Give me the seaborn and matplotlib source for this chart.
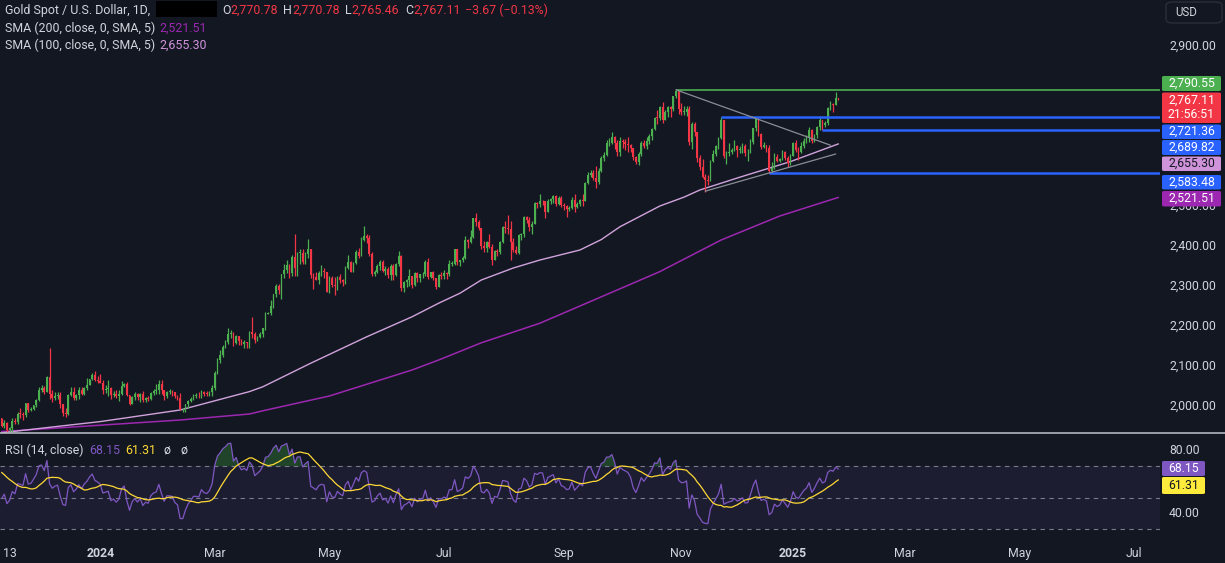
import numpy as np
import pandas as pd
import matplotlib
matplotlib.use('Agg')
import matplotlib.pyplot as plt
import matplotlib.transforms as mtransforms
from matplotlib.patches import FancyBboxPatch, Rectangle
from matplotlib.lines import Line2D
import seaborn as sns

# ---------------- data ----------------
# closes before the visible window, only used to warm up the RSI
warmup_close = [1933, 1931, 1930, 1920, 1925, 1915, 1901, 1874, 1864,
                1848, 1828, 1822, 1821, 1820, 1833, 1861, 1860, 1874, 1868, 1932,
                1920, 1923, 1947, 1974, 1981, 1973, 1971, 1979, 1985, 2006,
                1996, 1983, 1982, 1986, 1992, 1978, 1969]

# daily bars from 2023-11-08 to 2025-01-27 (one row per month)
close = [
    1950, 1958, 1940, 1946, 1963, 1959, 1981, 1980, 1978, 2007, 1990, 1992, 2002, 2014, 2041, 2044, 2036,
    2072, 2029, 2019, 2025, 2028, 2004, 1982, 1980, 2027, 2036, 2019, 2027, 2040, 2031, 2045, 2053, 2067, 2077, 2065, 2062,
    2058, 2041, 2043, 2045, 2027, 2030, 2024, 2029, 2049, 2055, 2028, 2006, 2023, 2029, 2022, 2029, 2014, 2020, 2018, 2032, 2037, 2039,
    2054, 2039, 2025, 2035, 2035, 2034, 2024, 2020, 1992, 1992, 2004, 2013, 2018, 2025, 2025, 2024, 2035, 2031, 2030, 2034, 2044,
    2083, 2114, 2128, 2148, 2160, 2179, 2182, 2158, 2174, 2162, 2155, 2160, 2157, 2186, 2181, 2165, 2172, 2179, 2194, 2230, 2233,
    2250, 2280, 2300, 2290, 2330, 2339, 2352, 2333, 2372, 2344, 2383, 2383, 2361, 2379, 2392, 2327, 2322, 2316, 2332, 2337, 2335, 2286,
    2320, 2303, 2301, 2322, 2314, 2309, 2346, 2360, 2336, 2358, 2386, 2376, 2415, 2425, 2421, 2379, 2329, 2334, 2351, 2361, 2338, 2343, 2327,
    2350, 2327, 2355, 2376, 2294, 2311, 2316, 2324, 2303, 2333, 2319, 2329, 2329, 2360, 2322, 2334, 2319, 2298, 2327, 2326,
    2332, 2329, 2356, 2356, 2392, 2359, 2364, 2371, 2415, 2411, 2422, 2469, 2459, 2445, 2400, 2396, 2409, 2398, 2364, 2387, 2384, 2410, 2447,
    2446, 2443, 2410, 2390, 2382, 2427, 2431, 2472, 2465, 2447, 2456, 2507, 2504, 2513, 2512, 2484, 2512, 2518, 2524, 2504, 2520, 2503,
    2500, 2493, 2495, 2516, 2497, 2506, 2516, 2512, 2558, 2578, 2582, 2569, 2559, 2587, 2621, 2628, 2657, 2657, 2672, 2658, 2634,
    2663, 2659, 2656, 2653, 2644, 2622, 2611, 2630, 2657, 2649, 2662, 2674, 2692, 2721, 2720, 2748, 2714, 2736, 2747, 2743, 2774, 2788, 2743,
    2736, 2736, 2742, 2659, 2706, 2684, 2619, 2598, 2572, 2565, 2563, 2612, 2631, 2650, 2670, 2715, 2625, 2632, 2636, 2639, 2650,
    2639, 2643, 2651, 2632, 2633, 2660, 2694, 2718, 2680, 2648, 2652, 2646, 2587, 2594, 2622, 2612, 2617, 2634, 2621, 2607, 2625,
    2658, 2640, 2636, 2649, 2662, 2670, 2689, 2663, 2677, 2697, 2715, 2703, 2708, 2745, 2755, 2753, 2770.78, 2767.11,
]
high = [
    1970, 1965, 1960, 1947, 1971, 1970, 1984, 1994, 1985, 2008, 2007, 1997, 2003, 2018, 2048, 2052, 2049,
    2075, 2146, 2040, 2036, 2035, 2036, 2006, 1995, 2030, 2048, 2047, 2031, 2047, 2047, 2048, 2070, 2068, 2083, 2088, 2075,
    2079, 2064, 2053, 2064, 2047, 2038, 2040, 2041, 2062, 2058, 2059, 2028, 2026, 2034, 2033, 2032, 2037, 2023, 2025, 2036, 2043, 2056,
    2065, 2066, 2040, 2038, 2043, 2040, 2036, 2027, 2032, 1996, 2006, 2016, 2022, 2031, 2033, 2035, 2041, 2038, 2037, 2038, 2052,
    2088, 2120, 2141, 2152, 2165, 2195, 2189, 2185, 2178, 2175, 2167, 2164, 2161, 2188, 2223, 2185, 2176, 2185, 2195, 2236, 2234,
    2266, 2281, 2305, 2305, 2331, 2354, 2365, 2354, 2378, 2431, 2386, 2392, 2392, 2384, 2417, 2391, 2333, 2335, 2338, 2352, 2346, 2336,
    2326, 2326, 2323, 2326, 2331, 2318, 2351, 2378, 2362, 2360, 2390, 2395, 2422, 2450, 2431, 2427, 2385, 2340, 2355, 2366, 2364, 2350, 2348,
    2354, 2354, 2357, 2388, 2378, 2313, 2317, 2342, 2325, 2334, 2335, 2331, 2336, 2365, 2369, 2336, 2338, 2320, 2330, 2335,
    2339, 2336, 2365, 2363, 2392, 2393, 2366, 2376, 2424, 2418, 2440, 2469, 2483, 2466, 2445, 2413, 2412, 2431, 2404, 2390, 2392, 2413, 2451,
    2462, 2477, 2462, 2419, 2401, 2431, 2432, 2474, 2476, 2473, 2463, 2509, 2509, 2531, 2514, 2513, 2517, 2521, 2528, 2528, 2524, 2525,
    2507, 2503, 2500, 2523, 2529, 2509, 2518, 2529, 2560, 2586, 2590, 2589, 2600, 2596, 2625, 2634, 2664, 2670, 2685, 2674, 2664,
    2673, 2667, 2667, 2672, 2655, 2645, 2625, 2634, 2662, 2666, 2673, 2679, 2695, 2722, 2740, 2749, 2759, 2740, 2750, 2749, 2774, 2790.55, 2787,
    2757, 2750, 2750, 2749, 2711, 2709, 2685, 2627, 2618, 2581, 2577, 2614, 2639, 2653, 2673, 2721.36, 2716, 2637, 2657, 2645, 2665,
    2653, 2649, 2657, 2656, 2643, 2667, 2696, 2721, 2720, 2683, 2660, 2653, 2653, 2610, 2632, 2631, 2620, 2639, 2638, 2625, 2629,
    2660, 2665, 2648, 2660, 2671, 2678, 2697, 2693, 2679, 2699, 2724, 2716, 2713, 2748, 2763, 2758, 2786, 2770.78,
]
low = [
    1947, 1945, 1932, 1931, 1936, 1955, 1956, 1971, 1965, 1973, 1985, 1987, 1990, 1998, 2012, 2035, 2031,
    2034, 2018, 2010, 2016, 2018, 1996, 1976, 1973, 1978, 2024, 2016, 2016, 2017, 2028, 2028, 2041, 2052, 2064, 2062, 2058,
    2057, 2030, 2033, 2024, 2017, 2022, 2021, 2013, 2028, 2047, 2025, 2002, 2004, 2015, 2016, 2010, 2011, 2009, 2012, 2015, 2028, 2030,
    2030, 2031, 2015, 2021, 2030, 2026, 2020, 2015, 1990, 1984, 1985, 1995, 2011, 2016, 2020, 2020, 2020, 2026, 2025, 2025, 2025,
    2039, 2079, 2108, 2123, 2146, 2154, 2170, 2150, 2155, 2152, 2152, 2146, 2146, 2146, 2170, 2157, 2162, 2171, 2172, 2191, 2229,
    2228, 2244, 2272, 2280, 2267, 2321, 2332, 2319, 2326, 2325, 2324, 2355, 2355, 2356, 2371, 2321, 2292, 2314, 2306, 2326, 2321, 2285,
    2282, 2297, 2277, 2291, 2308, 2299, 2306, 2343, 2334, 2336, 2354, 2371, 2374, 2412, 2408, 2375, 2326, 2325, 2333, 2340, 2335, 2327, 2320,
    2314, 2316, 2325, 2350, 2287, 2286, 2298, 2300, 2296, 2299, 2311, 2310, 2321, 2326, 2317, 2319, 2316, 2293, 2299, 2318,
    2318, 2318, 2326, 2350, 2353, 2353, 2351, 2359, 2368, 2394, 2407, 2420, 2450, 2441, 2393, 2385, 2384, 2395, 2353, 2366, 2375, 2381, 2408,
    2432, 2431, 2364, 2385, 2380, 2379, 2415, 2422, 2457, 2438, 2431, 2454, 2494, 2497, 2502, 2470, 2484, 2504, 2508, 2501, 2502, 2497,
    2489, 2472, 2487, 2492, 2485, 2495, 2499, 2500, 2512, 2555, 2573, 2566, 2546, 2554, 2585, 2613, 2625, 2649, 2654, 2643, 2624,
    2624, 2644, 2640, 2636, 2636, 2616, 2605, 2603, 2625, 2645, 2642, 2656, 2664, 2690, 2704, 2714, 2708, 2715, 2723, 2723, 2737, 2771, 2730,
    2728, 2728, 2725, 2652, 2643, 2676, 2610, 2589, 2570, 2536, 2553, 2563, 2610, 2625, 2643, 2668, 2620, 2605, 2624, 2629, 2637,
    2623, 2632, 2633, 2626, 2613, 2632, 2655, 2688, 2675, 2643, 2646, 2636, 2583.48, 2585, 2593, 2609, 2611, 2614, 2616, 2597, 2602,
    2624, 2635, 2615, 2633, 2645, 2657, 2661, 2657, 2660, 2671, 2690, 2689.82, 2697, 2702, 2741, 2735, 2753, 2765.46,
]

holidays = ['2023-12-25', '2024-01-01', '2024-12-25', '2025-01-01']

# moving averages read at a few points along the curves
sma100_dates = ['2023-11-08', '2023-12-01', '2024-01-02', '2024-02-13', '2024-03-20', '2024-03-27',
                '2024-04-22', '2024-05-21', '2024-06-13', '2024-06-27', '2024-07-09', '2024-07-19',
                '2024-08-06', '2024-08-20', '2024-09-10', '2024-09-20', '2024-10-01', '2024-10-22',
                '2024-11-04', '2024-11-12', '2024-12-03', '2024-12-31', '2025-01-27']
sma100_vals = [1933, 1946, 1961, 1990, 2036, 2048, 2107, 2173, 2223, 2257, 2282, 2315,
               2345, 2365, 2390, 2416, 2448, 2500, 2522, 2540, 2572, 2611, 2655.30]
sma200_dates = ['2023-11-08', '2024-01-02', '2024-02-13', '2024-03-20', '2024-03-27', '2024-05-01',
                '2024-06-13', '2024-06-27', '2024-07-19', '2024-08-20', '2024-09-19', '2024-10-22',
                '2024-11-22', '2024-12-24', '2025-01-27']
sma200_vals = [1936, 1952, 1965, 1980, 1988, 2025, 2090, 2115, 2158, 2207, 2270, 2336,
               2415, 2475, 2521.51]

# drawings
green_level = (2790.55, '2024-10-30')
blue_levels = [2721.36, 2689.82, 2583.48]
blue_starts = ['2024-11-22', '2025-01-17', '2024-12-18']
trend_down = [('2024-10-30', 2790.55), ('2025-01-22', 2652)]
trend_up = [('2024-11-14', 2537), ('2025-01-24', 2630)]

price_ticks = [2000, 2100, 2200, 2300, 2400, 2500, 2900]   # 2,600-2,800 sit under the value tags
rsi_ticks = [80, 40]
rsi_last, rsi_ma_last = 68.15, 61.31
x_tick_dates = ['2023-11-13', '2024-01-02', '2024-03-01', '2024-05-01', '2024-07-01', '2024-09-02',
                '2024-11-01', '2025-01-02', '2025-03-03', '2025-05-01', '2025-07-01']
x_tick_labels = ['13', '2024', 'Mar', 'May', 'Jul', 'Sep', 'Nov', '2025', 'Mar', 'May', 'Jul']

# ---------------- preparation ----------------
cal = pd.bdate_range('2023-11-08', '2025-08-29', freq='C', holidays=holidays)
pos = {d.strftime('%Y-%m-%d'): i for i, d in enumerate(cal)}

close = np.array(close, dtype=float)
opn = np.r_[warmup_close[-1], close[:-1]]
high = np.maximum(np.array(high, dtype=float), np.maximum(opn, close))
low = np.minimum(np.array(low, dtype=float), np.minimum(opn, close))
n = len(close)
x = np.arange(n)

# RSI (14, close) with Wilder smoothing, and its 14 SMA
allc = pd.Series(np.r_[warmup_close, close])
d = allc.diff().fillna(0)
g = d.clip(lower=0).ewm(alpha=1 / 14, adjust=False).mean()
l = (-d.clip(upper=0)).ewm(alpha=1 / 14, adjust=False).mean()
rsi_all = 100 - 100 / (1 + g / l)
rsi = rsi_all.iloc[-n:].to_numpy()
rsi_ma = rsi_all.rolling(14).mean().iloc[-n:].to_numpy()

# ---------------- style ----------------
bg = '#131722'
txt = '#d1d4dc'
up_c, dn_c = '#4caf50', '#f23645'
sns.set_theme(style='dark', rc={'axes.facecolor': bg, 'figure.facecolor': bg})
plt.rcParams['font.family'] = ['Roboto', 'DejaVu Sans']

W, H = 1225, 563
fig = plt.figure(figsize=(W / 100, H / 100), dpi=100)


def fx(px):
    return px / W


def fy(py):
    return 1 - py / H


ax = fig.add_axes([0, fy(433), fx(1160), 433 / H])
ax2 = fig.add_axes([0, fy(540), fx(1160), 107 / H])

per = 2.665
xl = 3 - 9.6 / per
xr = xl + 1160 / per
for a in (ax, ax2):
    a.set_facecolor(bg)
    a.set_xlim(xl, xr)
    for s in a.spines.values():
        s.set_visible(False)
    a.grid(False)
    a.set_yticks([])
ax.set_xticks([])
ax.set_ylim(2000 - 27 / 0.4, 2000 + 406 / 0.4)
ax2.set_ylim(30 - (540 - 529.2) / 1.5725, 70 + (466.3 - 433) / 1.5725)

# ---------------- main pane ----------------
sns.lineplot(x=[pos[s] for s in sma200_dates], y=sma200_vals, ax=ax, color='#9c27b0', linewidth=1.1, zorder=2)
sns.lineplot(x=[pos[s] for s in sma100_dates], y=sma100_vals, ax=ax, color='#d1a3dc', linewidth=1.0, zorder=2)

up = close >= opn
cols = np.where(up, up_c, dn_c)
ax.vlines(x, low, high, colors=cols, linewidth=0.9, zorder=3)
body_lo = np.minimum(opn, close)
body_h = np.maximum(np.abs(close - opn), 1.5)
ax.bar(x, body_h, bottom=body_lo, width=0.66, color=cols, linewidth=0, zorder=3)

ax.hlines(green_level[0], pos[green_level[1]], xr, color=up_c, linewidth=1.2, zorder=4)
for lv, st in zip(blue_levels, blue_starts):
    ax.hlines(lv, pos[st], xr, color='#2962ff', linewidth=1.8, zorder=4)
for tl in (trend_down, trend_up):
    ax.plot([pos[tl[0][0]], pos[tl[1][0]]], [tl[0][1], tl[1][1]], color='#8a8d96', linewidth=0.9, zorder=4)

# ---------------- RSI pane ----------------
ax2.axhspan(30, 70, color='#7e57c2', alpha=0.1, linewidth=0)
for lv in (70, 50, 30):
    ax2.axhline(lv, color='#787b86', linewidth=0.8, linestyle=(0, (4, 4)))
ax2.fill_between(x, 70, rsi, where=rsi > 70, interpolate=True, color='#2e7d32', alpha=0.45, linewidth=0)
sns.lineplot(x=x, y=rsi, ax=ax2, color='#7e57c2', linewidth=0.9)
sns.lineplot(x=x, y=rsi_ma, ax=ax2, color='#fdd835', linewidth=0.9)

ax2.set_xticks([pos[s] for s in x_tick_dates])
ax2.set_xticklabels(x_tick_labels)
ax2.tick_params(axis='x', length=0, pad=5, colors=txt, labelsize=8.8)
for lab in ax2.get_xticklabels():
    if lab.get_text() in ('2024', '2025'):
        lab.set_fontweight('bold')

# separator between the panes
fig.add_artist(Line2D([0, 1], [fy(433), fy(433)], transform=fig.transFigure, color='#b2b5be', linewidth=1.2))

# ---------------- price scale ----------------
fs_ax = 8.8
tr = mtransforms.blended_transform_factory(fig.transFigure, ax.transData)
clip_rect = Rectangle((fx(1160), fy(433)), fx(65), (433 - 207) / H, transform=fig.transFigure)
for p in price_ticks:
    t = ax.text(fx(1169), p, f'{p:,.2f}', transform=tr, color=txt, fontsize=fs_ax, va='center', ha='left', zorder=5)
    if p == 2500:
        t.set_clip_path(clip_rect)   # mostly hidden behind the SMA 200 tag
    else:
        t.set_clip_on(False)
tr2 = mtransforms.blended_transform_factory(fig.transFigure, ax2.transData)
for p in rsi_ticks:
    ax2.text(fx(1169), p, f'{p:.2f}', transform=tr2, color=txt, fontsize=fs_ax, va='center', ha='left', clip_on=False, zorder=5)

boxes = [
    (f'{green_level[0]:,.2f}', up_c, 'white', 76, 91),
    (f'{close[-1]:,.2f}\n21:56:51', dn_c, 'white', 92.5, 123),
    (f'{blue_levels[0]:,.2f}', '#2962ff', 'white', 124.5, 139),
    (f'{blue_levels[1]:,.2f}', '#2962ff', 'white', 140, 155),
    (f'{sma100_vals[-1]:,.2f}', '#ce93d8', bg, 156.5, 171),
    (f'{blue_levels[2]:,.2f}', '#2962ff', 'white', 175, 189.5),
    (f'{sma200_vals[-1]:,.2f}', '#9c27b0', 'white', 191, 206.5),
]
for label, fc, tc, y0, y1 in boxes:
    fig.add_artist(FancyBboxPatch((fx(1162), fy(y1)), fx(1221) - fx(1162), (y1 - y0) / H,
                                  boxstyle='round,pad=0,rounding_size=0.002', transform=fig.transFigure,
                                  facecolor=fc, edgecolor='none', zorder=10))
    fig.text(fx(1191.5), fy((y0 + y1) / 2), label, color=tc, fontsize=fs_ax, ha='center', va='center',
             linespacing=1.1, zorder=11)

for label, fc, tc, y0, y1 in [(f'{rsi_last:.2f}', '#7e57c2', 'white', 461, 476),
                              (f'{rsi_ma_last:.2f}', '#ffeb3b', bg, 477, 494)]:
    fig.add_artist(FancyBboxPatch((fx(1162), fy(y1)), fx(1205) - fx(1162), (y1 - y0) / H,
                                  boxstyle='round,pad=0,rounding_size=0.002', transform=fig.transFigure,
                                  facecolor=fc, edgecolor='none', zorder=10))
    fig.text(fx(1184), fy((y0 + y1) / 2), label, color=tc, fontsize=fs_ax, ha='center', va='center', zorder=11)

# USD button
fig.add_artist(FancyBboxPatch((fx(1166), fy(23)), fx(1222) - fx(1166), 21 / H,
                              boxstyle='round,pad=0,rounding_size=0.006', transform=fig.transFigure,
                              facecolor=bg, edgecolor='#2a2e39', linewidth=1, zorder=10))
fig.text(fx(1175), fy(12.5), 'USD', color=txt, fontsize=8.3, ha='left', va='center', zorder=11)

# ---------------- legends ----------------
fs = 8.9
fig.text(fx(5), fy(10.5), 'Gold Spot / U.S. Dollar, 1D,', color=txt, fontsize=fs, va='center')
fig.add_artist(Rectangle((fx(156), fy(17)), fx(217) - fx(156), 16 / H, transform=fig.transFigure,
                         facecolor='black', edgecolor='none'))
ohlc = [('O', 222, f'{opn[-1]:,.2f}', 230), ('H', 283, f'{high[-1]:,.2f}', 292),
        ('L', 345, f'{low[-1]:,.2f}', 351), ('C', 405, f'{close[-1]:,.2f}', 413)]
for k, kx, v, vx in ohlc:
    fig.text(fx(kx), fy(10.5), k, color=txt, fontsize=fs, va='center')
    fig.text(fx(vx), fy(10.5), v, color=dn_c, fontsize=fs, va='center')
chg = close[-1] - opn[-1]
fig.text(fx(465), fy(10.5), f'\u2212{abs(chg):.2f} (\u2212{abs(chg) / opn[-1] * 100:.2f}%)', color=dn_c, fontsize=fs, va='center')

fig.text(fx(5), fy(28), 'SMA (200, close, 0, SMA, 5)', color=txt, fontsize=fs, va='center')
fig.text(fx(159), fy(28), f'{sma200_vals[-1]:,.2f}', color='#9c27b0', fontsize=fs, va='center')
fig.text(fx(5), fy(45), 'SMA (100, close, 0, SMA, 5)', color=txt, fontsize=fs, va='center')
fig.text(fx(159), fy(45), f'{sma100_vals[-1]:,.2f}', color='#ce93d8', fontsize=fs, va='center')

fig.text(fx(5), fy(450), 'RSI (14, close)', color=txt, fontsize=fs, va='center')
fig.text(fx(89), fy(450), f'{rsi_last:.2f}', color='#7e57c2', fontsize=fs, va='center')
fig.text(fx(125), fy(450), f'{rsi_ma_last:.2f}', color='#fdd835', fontsize=fs, va='center')
fig.text(fx(164), fy(450), '\u00f8', color=txt, fontsize=fs, va='center')
fig.text(fx(180), fy(450), '\u00f8', color=txt, fontsize=fs, va='center')

fig.savefig('out.png', dpi=100, facecolor=bg)
